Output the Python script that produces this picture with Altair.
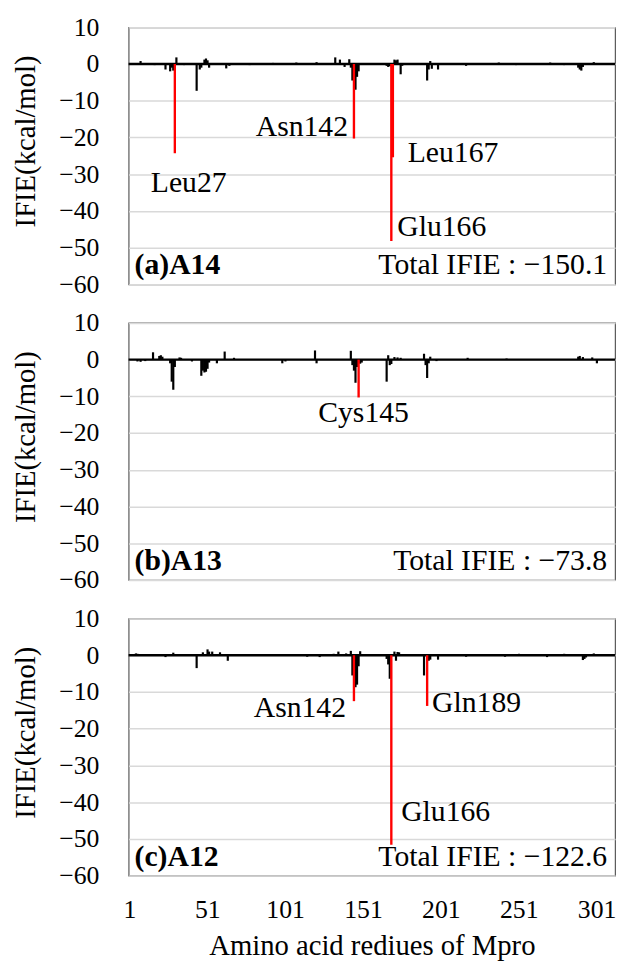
import altair as alt
import pandas as pd

# ---------------- data ----------------
res_a = [5, 14, 21, 24, 25, 26, 27, 28, 33, 41, 43, 44, 46, 47, 48, 49, 60, 62, 75, 90, 105, 118,
         130, 133, 136, 139, 140, 141, 142, 143, 144, 145, 163, 164, 165, 166, 167, 168, 169, 170,
         172, 173, 189, 190, 191, 192, 196, 214, 235, 246, 268, 277, 286, 287, 288, 289, 296]
val_a = [0.8, -0.3, -1.5, -2.0, -1.0, -1.8, -24.3, 1.8, -0.3, -7.3, -1.5, -1.0, 1.2, 1.5, 1.0, -1.0, -1.2, -0.5, -0.3, 0.3, 0.4, 0.5,
         1.8, 1.2, -0.8, 1.3, -1.0, -4.5, -20.3, -7.0, -3.5, -2.0, -0.5, -0.8, -0.6, -48.2, -25.4, 1.2, 1.0, 1.2,
         -2.8, -0.5, -4.5, -1.5, 0.8, -1.3, -1.5, -0.5, 0.4, -0.3, 0.4, -0.3, -1.0, -1.5, -1.8, -0.8, 0.5]
red_a = [27, 142, 166, 167]

res_b = [3, 5, 8, 13, 17, 18, 19, 24, 25, 26, 27, 30, 31, 38, 44, 45, 46, 47, 48, 49, 54, 59, 65, 96, 98,
         117, 118, 140, 141, 142, 143, 144, 145, 146, 147, 163, 164, 165, 166, 168, 170, 172, 187, 188,
         189, 190, 191, 195, 215, 240, 286, 287, 289, 295, 298]
val_b = [-0.5, -0.6, -0.4, 2.0, 1.0, 1.2, 0.8, -1.0, -6.0, -8.2, -2.0, 0.6, 0.5, -0.5, -4.4, -3.0, -3.5, -3.3, -2.5, -0.8, -1.0, 2.2, 0.5, -1.0, -0.5,
         2.5, -1.0, 2.4, -1.5, -3.0, -6.3, -2.0, -10.3, -1.1, -0.8, -6.0, 1.2, -1.5, -1.2, 0.7, 0.6, 0.5, 1.6, -1.5,
         -5.0, -1.0, 0.8, -0.4, 0.5, 0.3, 0.8, 1.0, 0.7, 0.6, -1.0]
red_b = [145]

res_c = [2, 3, 21, 26, 41, 45, 48, 49, 51, 56, 61, 112, 120, 129, 132, 137, 140, 141, 142, 143, 144, 145, 146,
         163, 164, 165, 166, 168, 169, 170, 171, 187, 189, 190, 191, 196, 214, 235, 239, 248, 266, 277,
         289, 290, 291, 296]
val_c = [0.5, 0.4, -0.5, 0.7, -3.5, 0.8, 1.6, 1.0, 1.0, 0.8, -1.5, -0.4, -0.5, 0.4, 1.0, 0.5, 1.2, -5.5, -12.5, -8.7, -8.0, -3.0, 1.1,
         -1.0, -2.5, -6.4, -51.6, 1.0, -1.5, 0.9, 0.8, -5.5, -13.8, -1.5, -1.2, -1.2, -0.4, 0.3, -0.4, 0.4, -0.5, 0.4,
         -1.3, -1.0, -0.6, 0.5]
red_c = [142, 166, 189]

# annotation labels: (text, residue, align, dx, dy)
labels_a = [("Leu27", 27, "center", 14, 30), ("Asn142", 142, "right", -6, -12),
            ("Leu167", 167, "left", 15, -4), ("Glu166", 166, "left", 6, -14)]
labels_b = [("Cys145", 145, "center", 5, 16)]
labels_c = [("Asn142", 142, "right", -8, 7), ("Glu166", 166, "left", 10, -33),
            ("Gln189", 189, "left", 5, -3)]

panel_names = ["(a)A14", "(b)A13", "(c)A12"]
totals = ["Total IFIE : \u2212150.1", "Total IFIE : \u221273.8", "Total IFIE : \u2212122.6"]

y_ticks = [10, 0, -10, -20, -30, -40, -50, -60]
x_ticks = [1, 51, 101, 151, 201, 251, 301]

FONT = "Liberation Serif"
W, H = 492, 260


def panel(res, val, red, labels, name, total, show_x):
    df = pd.DataFrame({"res": res, "val": val})
    df["hl"] = ["r" if r in red else "n" for r in res]

    if show_x:
        xaxis = alt.Axis(values=x_ticks, ticks=False, domain=False, grid=False, labelOverlap=False,
                         labelPadding=21, labelOffset=-5, title="Amino acid rediues of Mpro",
                         titlePadding=10)
    else:
        xaxis = None
    xs = alt.Scale(domain=[0.5, 306.5], nice=False, zero=False)
    ys = alt.Scale(domain=[-60, 10], nice=False)
    yaxis = alt.Axis(values=y_ticks, ticks=False, domain=False, grid=True, labelOverlap=False,
                     labelPadding=30, title="IFIE(kcal/mol)", titlePadding=19, titleY=115)

    X = alt.X("res:Q", scale=xs, axis=xaxis)
    Y = alt.Y("val:Q", scale=ys, axis=yaxis)

    base = alt.Chart(df)
    black = base.transform_filter(alt.datum.hl == "n").mark_bar(width=2.2, color="black").encode(
        x=X, y=Y,
    )
    zero = alt.Chart(pd.DataFrame({"val": [0]})).mark_rule(color="black", strokeWidth=2.5).encode(
        y=Y
    )
    redbars = base.transform_filter(alt.datum.hl == "r").mark_bar(width=2.4, color="#ff0000").encode(
        x=X, y=Y,
    )
    layers = [black, zero, redbars]
    valmap = dict(zip(res, val))
    for text, r, align, dx, dy in labels:
        ldf = pd.DataFrame({"res": [r], "val": [valmap[r]], "t": [text]})
        layers.append(
            alt.Chart(ldf).mark_text(align=align, baseline="middle", dx=dx, dy=dy, font=FONT,
                                     fontSize=30, color="black").encode(
                x=X, y=Y, text="t:N")
        )
    tdf = pd.DataFrame({"name": [name], "total": [total]})
    layers.append(
        alt.Chart(tdf).mark_text(align="left", baseline="middle", font=FONT, fontSize=30,
                                 fontWeight="bold", color="black").encode(
            x=alt.value(6), y=alt.value(H - 19), text="name:N")
    )
    layers.append(
        alt.Chart(tdf).mark_text(align="right", baseline="middle", font=FONT, fontSize=30,
                                 color="black").encode(
            x=alt.value(W - 8), y=alt.value(H - 19), text="total:N")
    )
    return alt.layer(*layers).properties(width=W, height=H)


pa = panel(res_a, val_a, red_a, labels_a, panel_names[0], totals[0], False)
pb = panel(res_b, val_b, red_b, labels_b, panel_names[1], totals[1], False)
pc = panel(res_c, val_c, red_c, labels_c, panel_names[2], totals[2], True)

chart = alt.vconcat(pa, pb, pc, spacing=39, bounds="flush").configure_view(
    stroke="#595959", strokeWidth=1.2
).configure_axis(
    labelFont=FONT, labelFontSize=26, labelColor="black",
    titleFont=FONT, titleFontSize=29, titleFontWeight="normal", titleColor="black",
    gridColor="#d9d9d9", gridWidth=1.5,
).properties(padding={"top": 0, "left": 2, "right": 5, "bottom": 5}, background="white")

chart.save("out.html", embed_options={"renderer": "svg", "actions": False})
